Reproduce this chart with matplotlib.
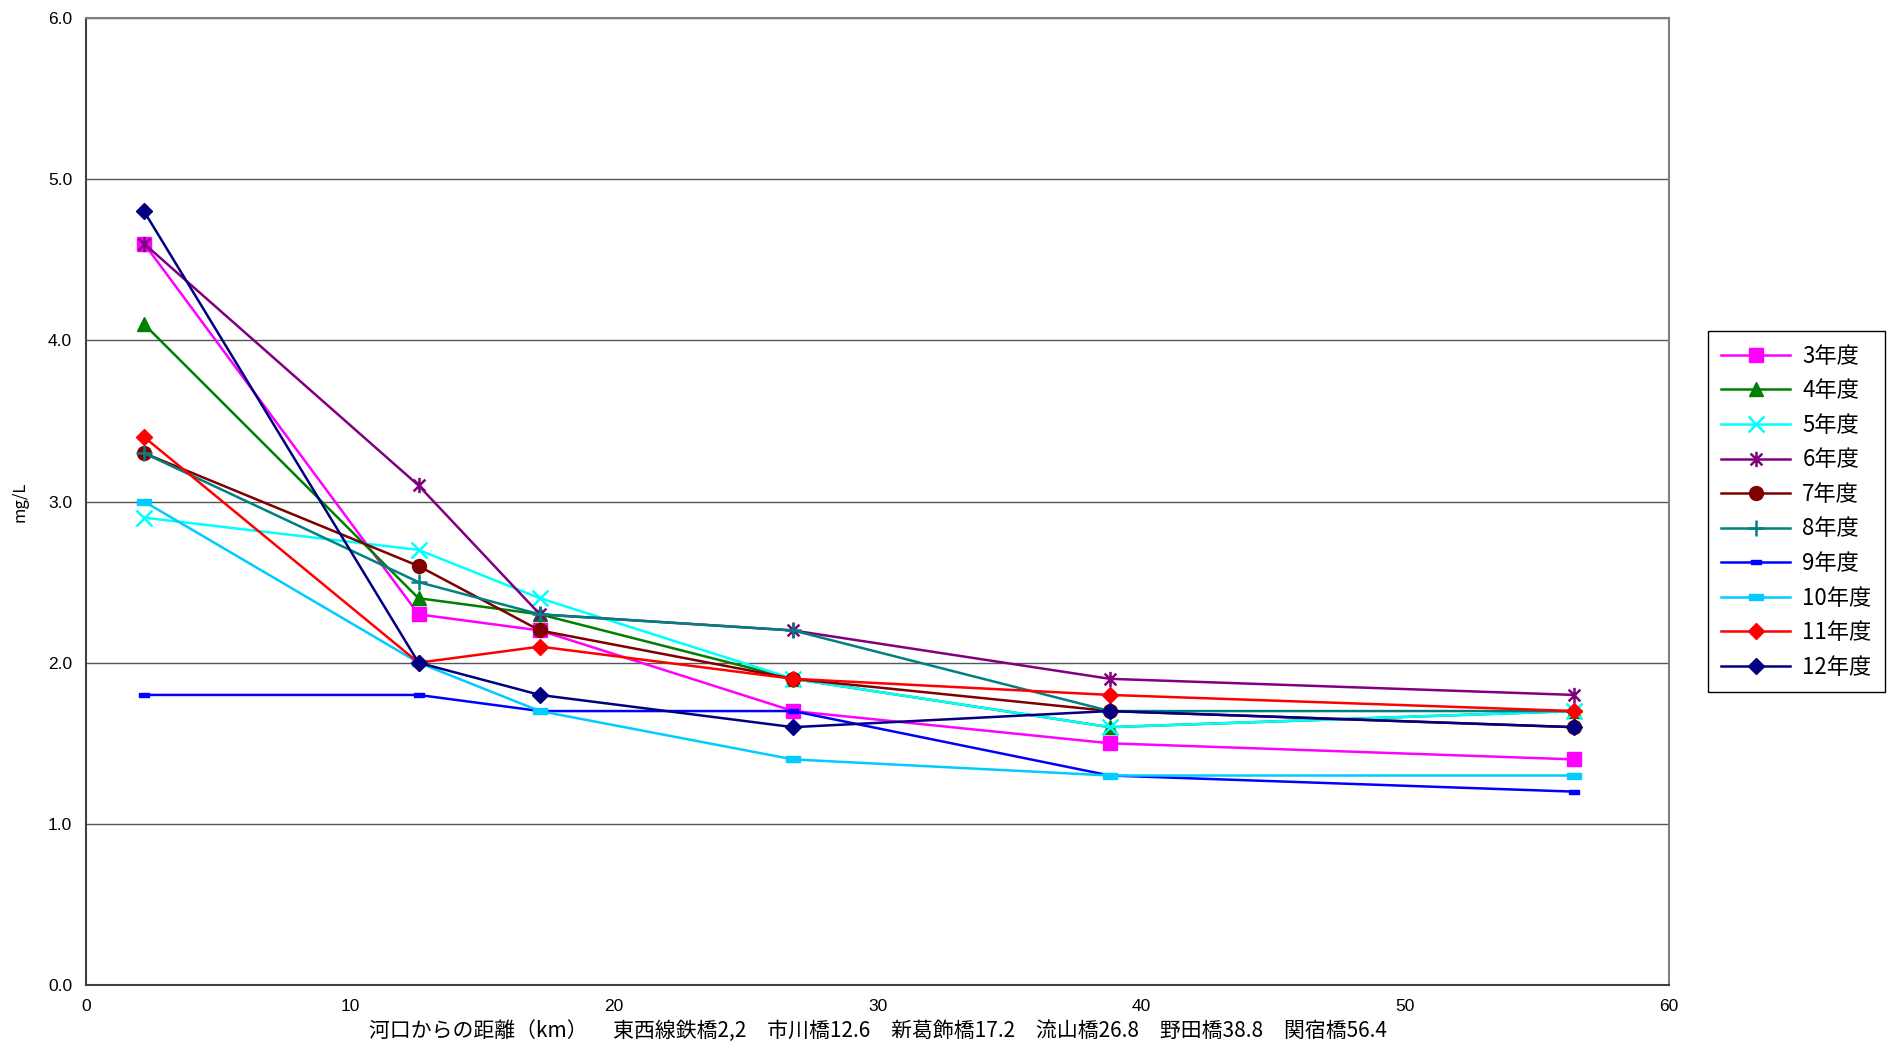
import matplotlib
matplotlib.use('Agg')
import matplotlib.pyplot as plt
from matplotlib.path import Path
import numpy as np

plt.rcParams['font.family'] = ['Liberation Sans', 'Noto Sans CJK JP', 'DejaVu Sans']
plt.rcParams['axes.facecolor'] = 'w'
plt.rcParams['savefig.facecolor'] = 'w'

# distance from the river mouth (km)
dist = [2.2, 12.6, 17.2, 26.8, 38.8, 56.4]

years = ['3年度', '4年度', '5年度', '6年度', '7年度', '8年度', '9年度', '10年度', '11年度', '12年度']
y3 = [4.6, 2.3, 2.2, 1.7, 1.5, 1.4]
y4 = [4.1, 2.4, 2.3, 1.9, 1.6, 1.7]
y5 = [2.9, 2.7, 2.4, 1.9, 1.6, 1.7]
y6 = [4.6, 3.1, 2.3, 2.2, 1.9, 1.8]
y7 = [3.3, 2.6, 2.2, 1.9, 1.7, 1.6]
y8 = [3.3, 2.5, 2.3, 2.2, 1.7, 1.7]
y9 = [1.8, 1.8, 1.7, 1.7, 1.3, 1.2]
y10 = [3.0, 2.0, 1.7, 1.4, 1.3, 1.3]
y11 = [3.4, 2.0, 2.1, 1.9, 1.8, 1.7]
y12 = [4.8, 2.0, 1.8, 1.6, 1.7, 1.6]
series = [y3, y4, y5, y6, y7, y8, y9, y10, y11, y12]

# excel-like star: X plus vertical bar
star = Path([(-1, -1), (1, 1), (-1, 1), (1, -1), (0, -1.3), (0, 1.3)],
            [Path.MOVETO, Path.LINETO, Path.MOVETO, Path.LINETO, Path.MOVETO, Path.LINETO])
rect = Path([(-1, -0.5), (1, -0.5), (1, 0.5), (-1, 0.5), (-1, -0.5)],
            [Path.MOVETO, Path.LINETO, Path.LINETO, Path.LINETO, Path.CLOSEPOLY])

colors = ['#FF00FF', '#008000', '#00FFFF', '#800080', '#800000',
          '#008080', '#0000FF', '#00CCFF', '#FF0000', '#000080']
markers = ['s', '^', 'x', star, 'o', '+', rect, rect, 'D', 'D']
msizes = [10, 10, 11, 11, 10, 12, 7, 10, 8, 8]

fig = plt.figure(figsize=(18.92, 10.61), dpi=100)
ax = fig.add_axes([0.0455, 0.0716, 0.8367, 0.9114])

for name, vals, c, m, ms in zip(years, series, colors, markers, msizes):
    mew = 1.8 if m in ('x', '+') or m is star else 1
    ax.plot(dist, vals, color=c, lw=1.8, marker=m, ms=ms, mfc=c, mec=c,
            mew=mew, label=name)

ax.set_xlim(0, 60)
ax.set_ylim(0, 6)
ax.set_xticks(np.arange(0, 61, 10))
ax.set_yticks(np.arange(0, 6.1, 1))
ax.set_yticklabels([f'{v:.1f}' for v in np.arange(0, 6.1, 1)])
ax.yaxis.grid(True, color='#555555', lw=1)
ax.set_axisbelow(True)
ax.tick_params(length=0, labelsize=12.5, pad=10)
for s in ax.spines.values():
    s.set_color('#808080')
    s.set_linewidth(1.5)
ax.spines['left'].set_color('#404040')
ax.spines['bottom'].set_color('#404040')

ax.set_ylabel('mg/L', fontsize=12, family=['Noto Sans CJK JP'], labelpad=14)
ax.set_xlabel('河口からの距離（km）　 東西線鉄橋2,2　市川橋12.6　新葛飾橋17.2　流山橋26.8　野田橋38.8　関宿橋56.4',
              fontsize=15, family=['Noto Sans CJK JP'], labelpad=4)

leg = ax.legend(loc='upper left', bbox_to_anchor=(1.0245, 0.676), fancybox=False,
                edgecolor='black', framealpha=1, prop={'family': ['Noto Sans CJK JP'], 'size': 16},
                handlelength=3.1, labelspacing=0.52, borderpad=0.6, handletextpad=0.55,
                borderaxespad=0)
leg.get_frame().set_linewidth(1)

fig.savefig('out.png', dpi=100)
